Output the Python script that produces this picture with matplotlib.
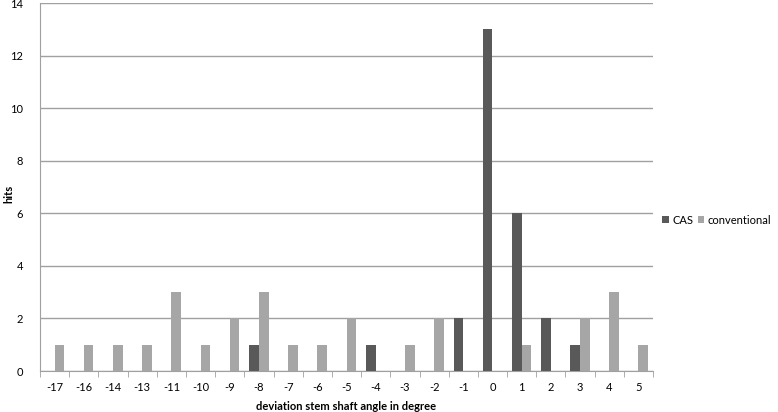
import matplotlib
matplotlib.use("Agg")
import matplotlib.pyplot as plt
import numpy as np

plt.rcParams['font.family'] = ['Lato', 'DejaVu Sans']

angles = ['-17', '-16', '-14', '-13', '-11', '-10', '-9', '-8', '-7', '-6', '-5',
          '-4', '-3', '-2', '-1', '0', '1', '2', '3', '4', '5']
cas = [0, 0, 0, 0, 0, 0, 0, 1, 0, 0, 0, 1, 0, 0, 2, 13, 6, 2, 1, 0, 0]
conventional = [1, 1, 1, 1, 3, 1, 2, 3, 1, 1, 2, 0, 1, 2, 0, 0, 1, 0, 2, 3, 1]

fig = plt.figure(figsize=(7.78, 4.12), dpi=100)
ax = fig.add_axes([0.0514, 0.0995, 0.788, 0.893])

x = np.arange(len(angles))
w = 0.33
ax.bar(x - w / 2, cas, w, color='#595959', label='CAS', zorder=3)
ax.bar(x + w / 2, conventional, w, color='#a6a6a6', label='conventional', zorder=3)

ax.set_xlim(-0.5, len(angles) - 0.5)
ax.set_ylim(0, 14)
ax.set_yticks(np.arange(0, 15, 2))
ax.yaxis.grid(True, color='#a0a0a0', lw=1)
ax.set_axisbelow(True)

ax.set_xticks(x)
ax.set_xticklabels(angles)
ax.set_xticks(np.arange(-0.5, len(angles), 1), minor=True)
ax.tick_params(axis='x', which='major', length=0, pad=8, labelsize=8)
ax.tick_params(axis='x', which='minor', length=4, color='#a0a0a0', direction='out')
ax.tick_params(axis='y', length=0, pad=12, labelsize=8)

for s in ['top', 'right']:
    ax.spines[s].set_visible(False)
ax.spines['left'].set_color('#a0a0a0')
ax.spines['bottom'].set_color('#a0a0a0')

ax.set_xlabel('deviation stem shaft angle in degree', fontsize=8, fontweight='bold', labelpad=6)
fig.text(9 / 778, 0.53, 'hits', rotation=90, ha='center', va='center',
         fontsize=8, fontweight='bold')

ax.legend(loc='center left', bbox_to_anchor=(1.015, 0.41), ncol=2, frameon=False,
          fontsize=8, handlelength=0.6, handleheight=0.6, handletextpad=0.3,
          columnspacing=0.4, borderaxespad=0, borderpad=0)

fig.savefig('out.png', dpi=100)
